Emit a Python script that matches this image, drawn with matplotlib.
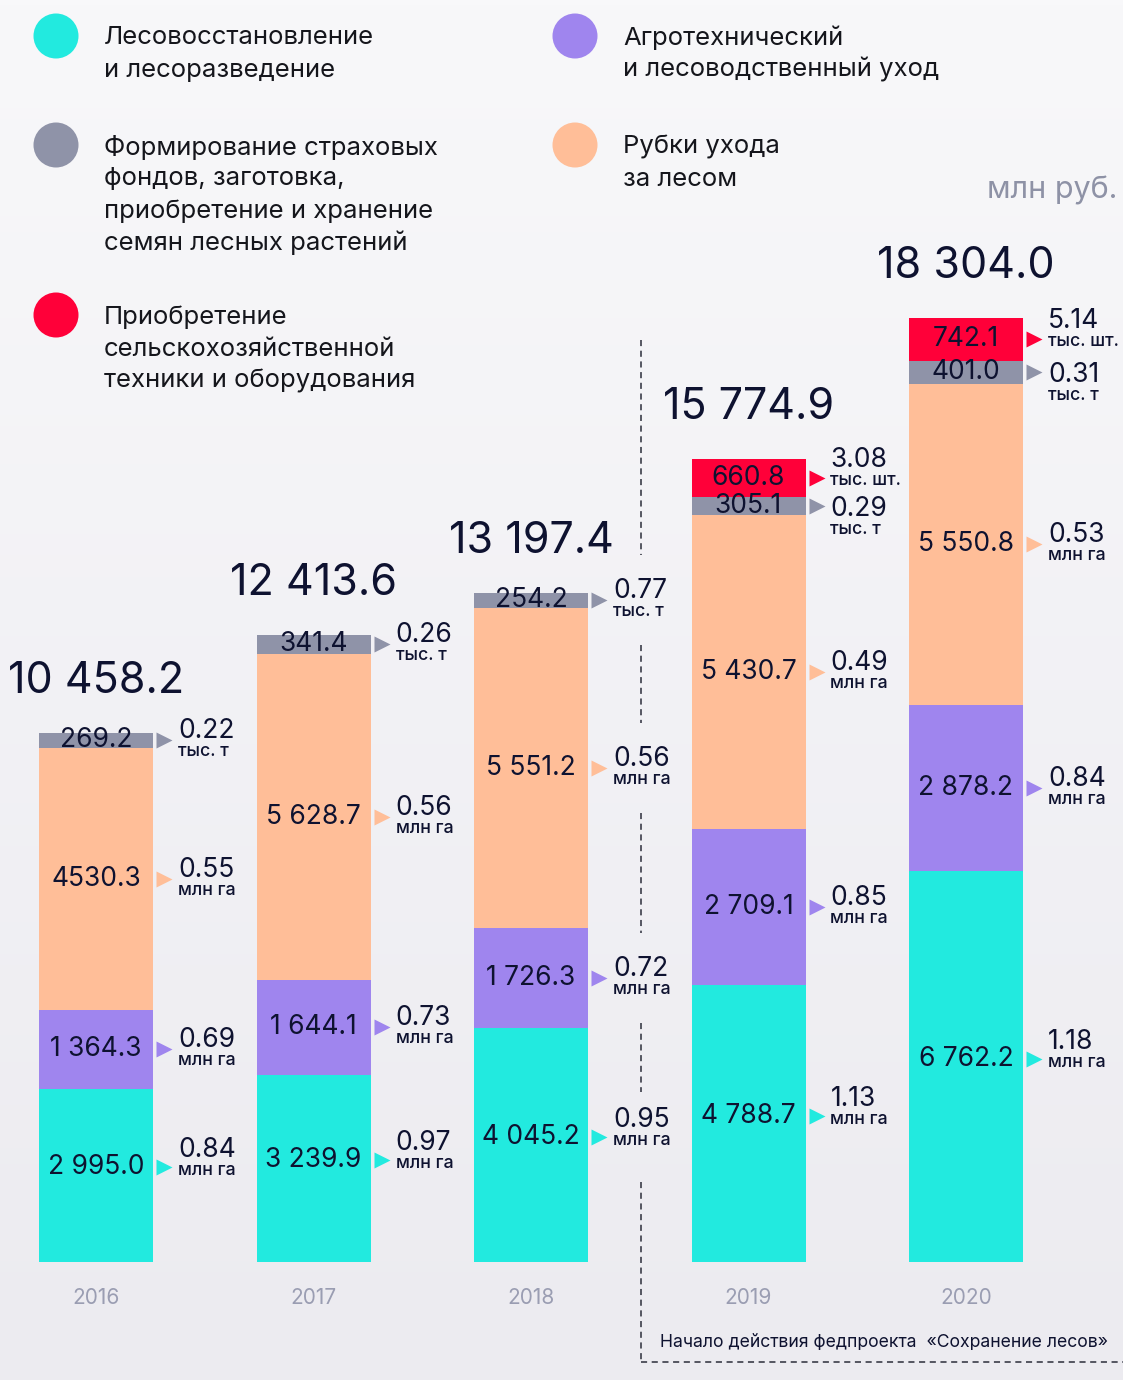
import numpy as np
import matplotlib.pyplot as plt
from matplotlib.patches import Circle
from matplotlib.colors import LinearSegmentedColormap

plt.rcParams['font.family'] = ['Inter', 'DejaVu Sans']

# data, млн руб.
years = ['2016', '2017', '2018', '2019', '2020']
totals = [10458.2, 12413.6, 13197.4, 15774.9, 18304.0]

reforest = [2995.0, 3239.9, 4045.2, 4788.7, 6762.2]
agro = [1364.3, 1644.1, 1726.3, 2709.1, 2878.2]
thinning = [4530.3, 5628.7, 5551.2, 5430.7, 5550.8]
seeds = [269.2, 341.4, 254.2, 305.1, 401.0]
machinery = [0.0, 0.0, 0.0, 660.8, 742.1]

# physical volumes shown beside the bars
reforest_area = [0.84, 0.97, 0.95, 1.13, 1.18]
agro_area = [0.69, 0.73, 0.72, 0.85, 0.84]
thinning_area = [0.55, 0.56, 0.56, 0.49, 0.53]
seeds_mass = [0.22, 0.26, 0.77, 0.29, 0.31]
machinery_units = [None, None, None, 3.08, 5.14]

CYAN = '#22eadf'
PURPLE = '#9f85ee'
GRAY = '#8f93a8'
PEACH = '#ffbe98'
RED = '#ff0039'
INK = '#0e1230'

legend_items = [
    (CYAN, ['Лесовосстановление', 'и лесоразведение'], 56, 36),
    (PURPLE, ['Агротехнический', 'и лесоводственный уход'], 575, 36),
    (GRAY, ['Формирование страховых', 'фондов, заготовка,',
            'приобретение и хранение', 'семян лесных растений'], 56, 145),
    (PEACH, ['Рубки ухода', 'за лесом'], 575, 145),
    (RED, ['Приобретение', 'сельскохозяйственной', 'техники и оборудования'], 56, 315),
]

W, H = 1123, 1380
K = 0.0578          # pixels per million rubles
BASE = 1262         # baseline, px from top
STEP = 217.5        # px between bars
X0 = 96             # px of first bar centre
bar_w = 114 / STEP

fig = plt.figure(figsize=(W / 100, H / 100), dpi=100)

# background with a soft vertical gradient, also used for the legend
bg = fig.add_axes([0, 0, 1, 1])
grad = np.linspace(0, 1, 256).reshape(-1, 1)
cmap = LinearSegmentedColormap.from_list('bg', ['#f8f8fa', '#ecebf0'])
bg.imshow(grad, extent=[0, W, H, 0], aspect='auto', cmap=cmap)
bg.set_xlim(0, W)
bg.set_ylim(H, 0)
bg.axis('off')

for color, lines, cx, cy in legend_items:
    bg.add_patch(Circle((cx, cy), 22.5, color=color, lw=0))
    for j, line in enumerate(lines):
        bg.text(cx + 48, cy + 2 + 32 * j, line, fontsize=18.5, color='#15161c',
                va='center', ha='left')

bg.text(1117, 190, 'млн руб.', fontsize=22, color='#8e92a6', ha='right', va='center')

ax = fig.add_axes([0, 0, 1, 1])
ax.patch.set_alpha(0)
ax.set_xlim(-X0 / STEP, (W - X0) / STEP)
ax.set_ylim(-(H - BASE) / K, BASE / K)
ax.axis('off')

x = np.arange(len(years))


def fmt(v):
    return f'{v:,.1f}'.replace(',', ' ')


series = [
    (reforest, reforest_area, 'млн га', CYAN),
    (agro, agro_area, 'млн га', PURPLE),
    (thinning, thinning_area, 'млн га', PEACH),
    (seeds, seeds_mass, 'тыс. т', GRAY),
    (machinery, machinery_units, 'тыс. шт.', RED),
]

bottom = np.zeros(len(years))
side_y_2018 = []
for vals, extra, unit, color in series:
    vals = np.array(vals)
    for i in range(len(years)):
        v = vals[i]
        if v <= 0:
            continue
        ax.bar(x[i], v, bar_w, bottom=bottom[i], color=color, lw=0)
        yc = bottom[i] + v / 2
        shift = 8 if color == CYAN else 0
        label = fmt(v)
        if color == PEACH and i == 0:
            label = '4530.3'
        ax.annotate(label, (x[i], yc), xytext=(0, shift), textcoords='offset pixels',
                    ha='center', va='center', fontsize=19, color=INK)

        # side annotation
        side_shift = shift
        if machinery[i] > 0 and color == RED:
            side_shift = 9
        elif machinery[i] > 0 and color == GRAY:
            side_shift = -12
        ty = yc + shift / K
        tx = x[i] + bar_w / 2
        ax.plot(tx + 11 / STEP, ty, marker='>', ms=11, color=color, mec='none')
        if i == 2:
            side_y_2018.append(ty)
        ax.annotate(f'{extra[i]:.2f}', (tx + 25 / STEP, ty), xytext=(0, side_shift + 2),
                    textcoords='offset pixels', ha='left', va='baseline',
                    fontsize=19, color=INK)
        ax.annotate(unit, (tx + 25 / STEP, ty), xytext=(0, side_shift - 16),
                    textcoords='offset pixels', ha='left', va='baseline',
                    fontsize=12.8, color=INK, fontweight='medium')
    bottom += vals

for i in range(len(years)):
    ax.annotate(fmt(totals[i]), (x[i], bottom[i]), xytext=(0, 40),
                textcoords='offset pixels', ha='center', va='baseline',
                fontsize=31, color=INK)
    ax.annotate(years[i], (x[i], 0), xytext=(0, -36), textcoords='offset pixels',
                ha='center', va='center', fontsize=15, color='#9a9db2')

# divider: start of the federal project
xd = 2.5 + 1.5 / STEP
y_top = (BASE - 340) / K
y_bot = (BASE - 1362) / K
gap = 45 / K
edges = [y_top]
for ty in side_y_2018[::-1]:
    edges += [ty + gap, ty - gap]
edges.append(y_bot)
for a, b in zip(edges[0::2], edges[1::2]):
    ax.plot([xd, xd], [a, b], color='#2b2d3a', lw=1.1, ls=(0, (4, 3)))
ax.plot([xd, ax.get_xlim()[1]], [y_bot, y_bot], color='#2b2d3a', lw=1.1, ls=(0, (4, 3)))
ax.annotate('Начало действия федпроекта  «Сохранение лесов»', (xd, y_bot),
            xytext=(19, 20), textcoords='offset pixels', ha='left', va='center',
            fontsize=12.7, color=INK)

fig.savefig('out.png', dpi=100)
